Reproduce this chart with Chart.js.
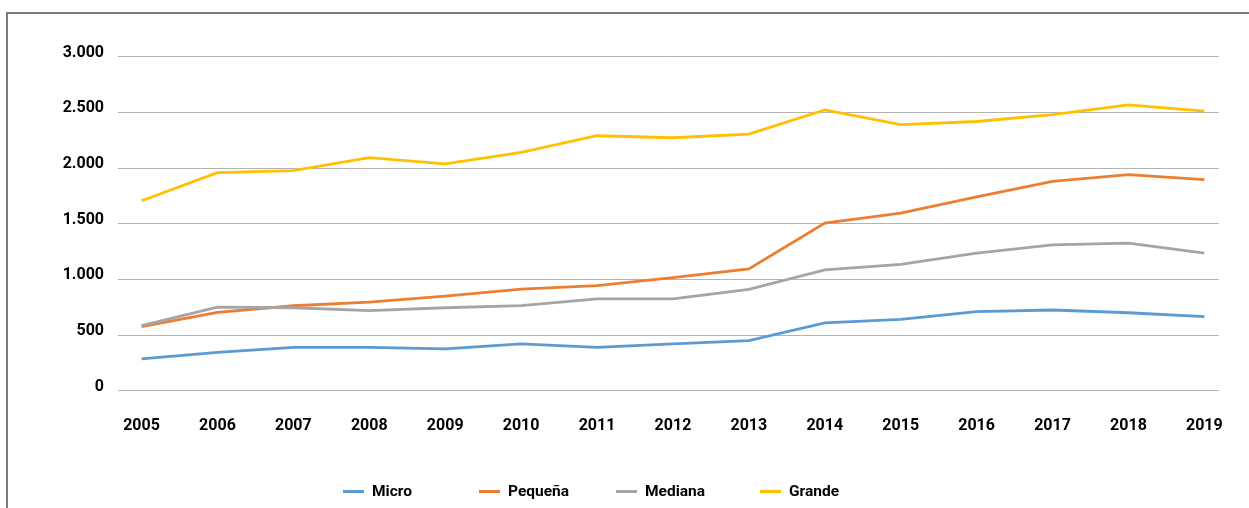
<!DOCTYPE html>
<html>
<head>
<meta charset="utf-8">
<script src="https://cdn.jsdelivr.net/npm/chart.js@4.4.1/dist/chart.umd.min.js"></script>
<style>
  html, body { margin: 0; padding: 0; background: #fff; overflow: hidden; }
  #wrap { position: relative; width: 1249px; height: 508px; }
  #frame { position: absolute; left: 6px; top: 12px; width: 1300px; height: 600px; border: 2px solid #7d7d7d; box-sizing: border-box; pointer-events: none; }
  #legend { position: absolute; top: 480px; left: 0; height: 22px; font-family: "Roboto", sans-serif; font-weight: bold; font-size: 15.5px; color: #000; }
  .item { position: absolute; top: 0; white-space: nowrap; display: flex; align-items: center; height: 22px; }
  .swatch { display: inline-block; width: 21px; height: 3px; margin-right: 8px; }
</style>
</head>
<body>
<div id="wrap">
  <canvas id="c" width="1249" height="508"></canvas>
  <div id="frame"></div>
  <div id="legend"></div>
</div>
<script>
const years = [2005, 2006, 2007, 2008, 2009, 2010, 2011, 2012, 2013, 2014, 2015, 2016, 2017, 2018, 2019];
const seriesNames = ["Micro", "Pequeña", "Mediana", "Grande"];
const micro   = [285, 345, 390, 390, 375, 420, 390, 420, 450, 610, 640, 710, 725, 700, 665];
const pequena = [575, 703, 763, 795, 850, 913, 943, 1015, 1093, 1505, 1595, 1740, 1880, 1940, 1895];
const mediana = [585, 750, 745, 720, 745, 765, 825, 825, 910, 1085, 1135, 1235, 1310, 1325, 1235];
const grande  = [1706, 1958, 1976, 2093, 2037, 2140, 2290, 2272, 2305, 2522, 2390, 2418, 2480, 2567, 2512];
const yTicks = [0, 500, 1000, 1500, 2000, 2500, 3000];

const colors = ["#5B9BD5", "#ED7D31", "#A5A5A5", "#FFC000"];
const allSeries = [micro, pequena, mediana, grande];
const FONT = { family: '"Roboto", sans-serif', size: 16, weight: 'bold' };

function fmt(v) { return String(v).replace(/\B(?=(\d{3})+(?!\d))/g, "."); }

const datasets = allSeries.map((vals, i) => ({
  label: seriesNames[i],
  data: vals.map((v, j) => ({ x: years[j], y: v })),
  borderColor: colors[i],
  backgroundColor: colors[i],
  borderWidth: 2.8,
  pointRadius: 0,
  tension: 0,
  fill: false,
  order: allSeries.length - i
}));

new Chart(document.getElementById('c'), {
  type: 'line',
  data: { datasets },
  options: {
    responsive: false,
    animation: false,
    layout: { padding: { left: 0, right: 21, top: 56.7, bottom: 57.3 } },
    plugins: { legend: { display: false }, tooltip: { enabled: false } },
    scales: {
      x: {
        type: 'linear',
        min: 2004.69,
        max: 2019.19,
        afterBuildTicks: (s) => { s.ticks = years.map(v => ({ value: v })); },
        afterFit: (s) => { s.height = 60; },
        grid: { display: false, drawTicks: false },
        border: { display: false },
        ticks: { autoSkip: false, maxRotation: 0, padding: 26, color: '#000', font: FONT, callback: (v) => String(v) }
      },
      y: {
        min: 0,
        max: 3000,
        afterBuildTicks: (s) => { s.ticks = yTicks.map(v => ({ value: v })); },
        afterFit: (s) => { s.width = 118; },
        grid: { color: '#b3b3b3', lineWidth: 1, drawTicks: false },
        border: { display: false },
        ticks: { padding: 14, labelOffset: -4, color: '#000', font: FONT, callback: (v) => fmt(v) }
      }
    }
  }
});

// legend built from series names/colors
const legendLefts = [343, 479, 616, 760];
const lg = document.getElementById('legend');
seriesNames.forEach((name, i) => {
  const it = document.createElement('div');
  it.className = 'item';
  it.style.left = legendLefts[i] + 'px';
  const sw = document.createElement('span');
  sw.className = 'swatch';
  sw.style.background = colors[i];
  it.appendChild(sw);
  it.appendChild(document.createTextNode(name));
  lg.appendChild(it);
});
</script>
</body>
</html>
